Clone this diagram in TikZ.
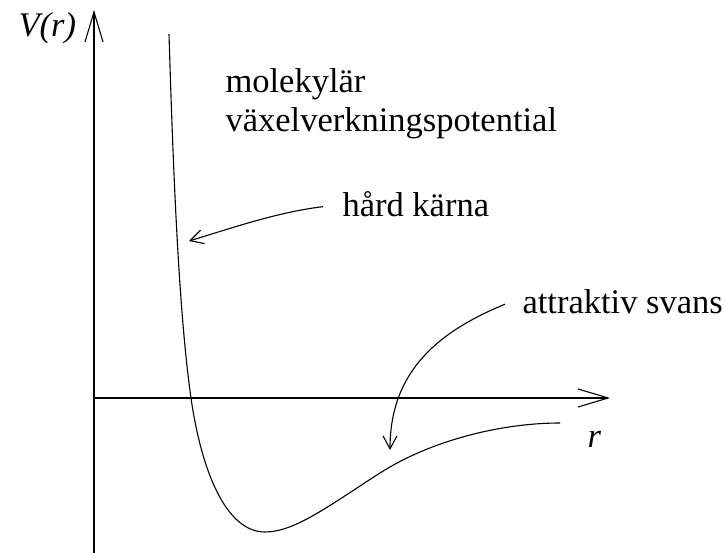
\documentclass[tikz,border=0pt]{standalone}
\usepackage{fontspec}
\setmainfont{Liberation Serif}
\usetikzlibrary{arrows.meta}

\begin{document}
\begin{tikzpicture}[x=1pt, y=-1pt, line width=1.1pt,
    every node/.style={inner sep=0pt, anchor=base west, font=\fontsize{34.5}{39}\selectfont},
    axis/.style={-{Straight Barb[length=30pt, width=18pt, line width=1.1pt]}},
    pointer/.style={-{Straight Barb[length=13pt, width=14pt, line width=1.1pt]}}]
    \useasboundingbox (0,0) rectangle (725,553);

    \coordinate (origin) at (94,398);
    \coordinate (ybottom) at (94,553);
    \coordinate (ytop) at (94,10);
    \coordinate (xend) at (610,398);
    \coordinate (wall) at (189,241);
    \coordinate (tail) at (390,450);

    \node (vlabel) at (18,37) {\itshape V(r)};
    \node (rlabel) at (587,447) {\itshape r};
    \node (mol1) at (225,93) {molekylär};
    \node (mol2) at (225,132) {växelverkningspotential};
    \node (hard) at (342,217) {hård kärna};
    \node (attr) at (522,313) {attraktiv svans};

    \draw[axis] (ybottom) -- (ytop);
    \draw[axis] (origin) -- (xend);

    \draw (169,34) .. controls (174,200) and (180,320) .. (191,398)
        .. controls (201,468) and (225,532) .. (265,532)
        .. controls (295,532) and (330,505) .. (380,473)
        .. controls (430,441) and (500,423) .. (560,423);

    \draw[pointer] ([xshift=-19pt, yshift=-2pt]hard.west) .. controls (278,212) and (232,228) .. (wall);
    \draw[pointer] ([xshift=-17pt, yshift=-3pt]attr.west) .. controls (440,331) and (390,370) .. (tail);
\end{tikzpicture}
\end{document}
